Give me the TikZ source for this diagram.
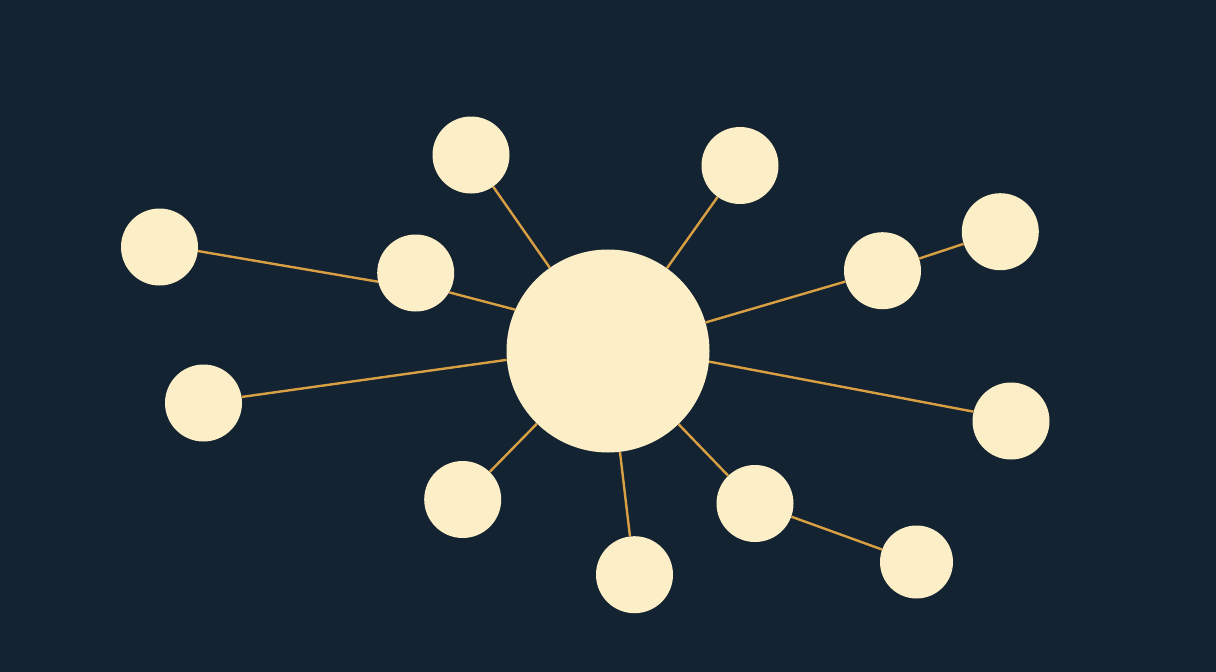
\documentclass[tikz,border=0pt]{standalone}
\definecolor{bgnavy}{HTML}{142331}
\definecolor{cream}{HTML}{FCEFC8}
\definecolor{linkorange}{HTML}{D9A043}
\begin{document}
\begin{tikzpicture}[x=1pt,y=-1pt,
  hub/.style={circle,fill=cream,inner sep=0pt,minimum size=203pt},
  sat/.style={circle,fill=cream,inner sep=0pt,minimum size=77pt},
  link/.style={draw=linkorange,line width=2.4pt}]
\fill[bgnavy] (0,0) rectangle (1216,672);
\useasboundingbox (0,0) rectangle (1216,672);
\node[hub] (c) at (608,351) {};
\node[sat] (tl) at (471,155) {};
\node[sat] (tr) at (740,165.5) {};
\node[sat] (fl) at (159.5,247) {};
\node[sat] (lm) at (415.7,273) {};
\node[sat] (rm) at (882.5,270.7) {};
\node[sat] (fr) at (1000.3,231.7) {};
\node[sat] (ll) at (203.5,403) {};
\node[sat] (rl) at (1011,421) {};
\node[sat] (bl) at (462.7,499.5) {};
\node[sat] (b) at (634.5,574.7) {};
\node[sat] (br) at (755,503.5) {};
\node[sat,minimum size=73pt] (fbr) at (916.5,562) {};
\draw[link] (c) -- (tl);
\draw[link] (c) -- (tr);
\draw[link] (fl.-6) -- (lm.-167);
\draw[link] (lm.-30) -- (c.156.7);
\draw[link] (c) -- (rm);
\draw[link] (rm) -- (fr);
\draw[link] (c.185) -- (ll.9);
\draw[link] (c.-6.6) -- (rl.166);
\draw[link] (c) -- (bl);
\draw[link] (c) -- (b);
\draw[link] (c) -- (br);
\draw[link] (br) -- (fbr);
\end{tikzpicture}
\end{document}
